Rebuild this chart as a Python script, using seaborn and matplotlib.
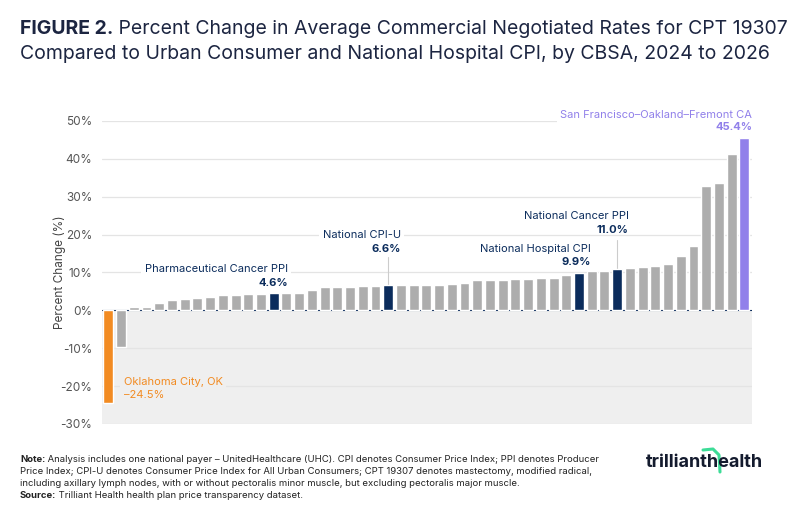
import matplotlib
matplotlib.use("Agg")
import matplotlib.pyplot as plt
from matplotlib.lines import Line2D
import pandas as pd
import seaborn as sns

# Percent change 2024 -> 2026 by CBSA (sorted), plus national benchmarks
values = [-24.5, -9.6, 0.8, 0.8, 2.0, 2.7, 2.9, 3.2, 3.4, 4.0, 4.0, 4.2, 4.4, 4.6,
          4.7, 4.7, 5.4, 6.1, 6.2, 6.2, 6.3, 6.4, 6.6, 6.6, 6.8, 6.8, 6.8, 6.9,
          7.2, 7.9, 8.1, 8.1, 8.4, 8.4, 8.5, 8.6, 9.3, 9.9, 10.4, 10.4, 11.0, 11.1,
          11.4, 11.7, 12.3, 14.4, 17.0, 32.9, 33.6, 41.2, 45.4]
names = [f"CBSA {i + 1:02d}" for i in range(len(values))]
names[0] = "Oklahoma City, OK"
names[13] = "Pharmaceutical Cancer PPI"
names[22] = "National CPI-U"
names[37] = "National Hospital CPI"
names[40] = "National Cancer PPI"
names[50] = "San Francisco-Oakland-Fremont CA"
kinds = ["CBSA"] * len(values)
kinds[0] = "Lowest"
kinds[50] = "Highest"
for i in (13, 22, 37, 40):
    kinds[i] = "Benchmark"

y_ticks = [-30, -20, -10, 0, 10, 20, 30, 40, 50]

NAVY = "#0B2C5C"
GRAY = "#ADADAD"
ORANGE = "#F28B22"
PURPLE = "#9180EA"
TITLE_C = "#1C2541"
palette = {"CBSA": GRAY, "Benchmark": NAVY, "Lowest": ORANGE, "Highest": PURPLE}

df = pd.DataFrame({"name": names, "value": values, "kind": kinds})

sns.set_theme(style="white")
plt.rcParams["font.family"] = ["Inter", "DejaVu Sans"]

fig = plt.figure(figsize=(8, 5.17), dpi=100)
ax = fig.add_axes([0.1275, 0.18, 0.8125, 0.586])

ax.axhspan(-30, 0, color="#EFEFEF", zorder=0, lw=0)
for t in y_ticks:
    if t != 0:
        ax.axhline(t, color="#E4E4E4", lw=0.9, zorder=0.5)

sns.barplot(data=df, x="name", y="value", hue="kind", palette=palette,
            order=names, dodge=False, width=0.78, legend=False, ax=ax,
            saturation=1, zorder=2)
ax.axhline(0, color=NAVY, lw=0.8, zorder=1.5)

ax.set_xlim(-0.5, 50.6)
ax.set_ylim(-30, 50)
ax.set_yticks(y_ticks)
ax.set_yticklabels([f"{t}%" for t in y_ticks], color="#555555", fontsize=8.5)
ax.set_xticks([])
ax.set_xlabel("")
ax.set_ylabel("Percent Change (%)", color="#444444", fontsize=8.5, labelpad=-4)
ax.tick_params(axis="y", length=0, pad=7)
for s in ax.spines.values():
    s.set_visible(False)

box_w = dict(facecolor="white", edgecolor="none", pad=2.5)
box_g = dict(facecolor="#EFEFEF", edgecolor="none", pad=2.5)


def label(x, y1, y2, title, val, color, box, ha="right", bold=True):
    ax.text(x, y1, title, ha=ha, va="center", fontsize=8, color=color,
            bbox=box, zorder=4, clip_on=False)
    ax.text(x, y2, val, ha=ha, va="center", fontsize=8, color=color,
            fontweight="bold" if bold else "normal", zorder=4, clip_on=False)


label(14.1, 10.8, 7.1, names[13], f"{values[13]}%", NAVY, box_w)
label(23.0, 20.0, 16.1, names[22], f"{values[22]}%", NAVY, box_w)
ax.plot([22, 22], [values[22], 14.0], color="#CCCCCC", lw=0.8, zorder=1)
label(37.95, 16.1, 12.7, names[37], f"{values[37]}%", NAVY, box_w)
label(40.9, 24.8, 21.1, names[40], f"{values[40]}%", NAVY, box_w)
ax.plot([40, 40], [values[40], 18.7], color="#CCCCCC", lw=0.8, zorder=1)
label(50.6, 51.7, 48.3, "San Francisco\u2013Oakland\u2013Fremont CA", f"{values[50]}%",
      PURPLE, box_w)
label(1.2, -19.0, -22.4, names[0], f"\u2013{abs(values[0])}%", ORANGE, box_g,
      ha="left", bold=False)

# Title
fig.canvas.draw()
r = fig.canvas.get_renderer()
W = fig.get_figwidth() * fig.dpi


def rich(x, y, parts, size, color):
    for txt, w in parts:
        t = fig.text(x, y, txt, fontsize=size, color=color, fontweight=w,
                     va="baseline", ha="left")
        bb = t.get_window_extent(r)
        x = bb.x1 / W


rich(20 / W, 1 - 34 / 517,
     [("FIGURE 2.", "bold"),
      (" Percent Change in Average Commercial Negotiated Rates for CPT 19307", "normal")],
     14.0, TITLE_C)
fig.text(20 / W, 1 - 59 / 517,
         "Compared to Urban Consumer and National Hospital CPI, by CBSA, 2024 to 2026",
         fontsize=14.0, color=TITLE_C, va="baseline")

# Notes
note_c = "#222222"
ns = 6.85
rich(20 / W, 1 - 462 / 517,
     [("Note:", "bold"),
      (" Analysis includes one national payer \u2013 UnitedHealthcare (UHC). CPI denotes "
       "Consumer Price Index; PPI denotes Producer", "normal")], ns, note_c)
fig.text(20 / W, 1 - 474 / 517,
         "Price Index; CPI-U denotes Consumer Price Index for All Urban Consumers; "
         "CPT 19307 denotes mastectomy, modified radical,", fontsize=ns, color=note_c,
         va="baseline")
fig.text(20 / W, 1 - 486 / 517,
         "including axillary lymph nodes, with or without pectoralis minor muscle, "
         "but excluding pectoralis major muscle.", fontsize=ns, color=note_c,
         va="baseline")
rich(20 / W, 1 - 498 / 517,
     [("Source:", "bold"),
      (" Trilliant Health health plan price transparency dataset.", "normal")],
     ns, note_c)

# Logo
fig.text(646 / W, 1 - 467 / 517, "trillianthealth", fontsize=13, fontweight="bold",
         color="#141B2E", va="baseline")
fig.add_artist(Line2D([703 / W, 713 / W, 719 / W, 720 / W],
                      [1 - 450 / 517, 1 - 449 / 517, 1 - 455 / 517, 1 - 472 / 517],
                      color="#3DDC97", lw=2.2, solid_capstyle="round"))

fig.savefig("out.png", dpi=100)
